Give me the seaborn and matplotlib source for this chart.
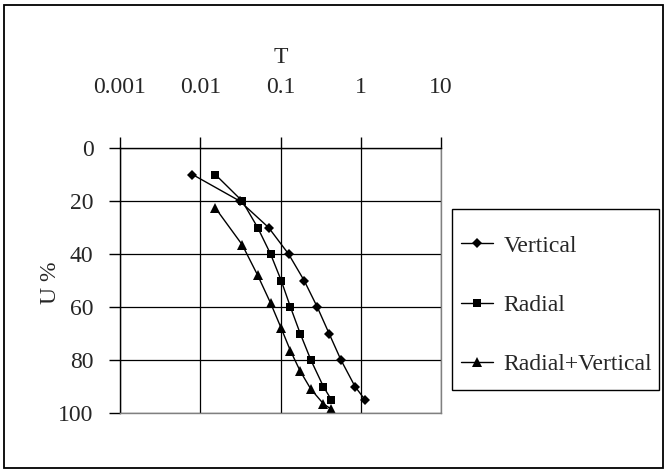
import matplotlib
matplotlib.use("Agg")
import matplotlib.pyplot as plt
import seaborn as sns
import pandas as pd
from matplotlib.patches import Rectangle
from matplotlib.ticker import FixedLocator, FixedFormatter, NullLocator

# Data
u_levels = [10, 20, 30, 40, 50, 60, 70, 80, 90, 95]
t_vertical = [0.008, 0.031, 0.071, 0.126, 0.197, 0.287, 0.403, 0.567, 0.848, 1.129]
t_radial = [0.0154, 0.0333, 0.0519, 0.0752, 0.102, 0.133, 0.176, 0.239, 0.342, 0.43]
u_combined = [22.6, 36.5, 48.0, 58.5, 68.0, 76.5, 84.2, 91.0, 96.5, 98.6]
series_names = ["Vertical", "Radial", "Radial+Vertical"]
x_tick_values = [0.001, 0.01, 0.1, 1, 10]
x_tick_labels = ["0.001", "0.01", "0.1", "1", "10"]
y_tick_values = [0, 20, 40, 60, 80, 100]

df = pd.concat([
    pd.DataFrame({"T": t_vertical, "U": u_levels, "series": series_names[0], "order": range(10)}),
    pd.DataFrame({"T": t_radial, "U": u_levels, "series": series_names[1], "order": range(10)}),
    pd.DataFrame({"T": t_radial, "U": u_combined, "series": series_names[2], "order": range(10)}),
], ignore_index=True)

sns.set_style("white")
plt.rcParams["font.family"] = ["Liberation Serif", "DejaVu Serif"]
plt.rcParams["font.size"] = 17

fig = plt.figure(figsize=(6.66, 4.71), dpi=100)
W, H = 666, 471
left, right, top, bottom = 120, 441, 148, 413
ax = fig.add_axes([left / W, 1 - bottom / H, (right - left) / W, (bottom - top) / H])

markers = {"Vertical": "D", "Radial": "s", "Radial+Vertical": "^"}
sns.lineplot(data=df, x="T", y="U", hue="series", style="series", markers=markers,
             dashes=False, palette=["black"] * 3, sort=False, estimator=None,
             linewidth=1.0, markersize=7, markeredgewidth=0, ax=ax, legend=False)
for line, ms in zip(ax.get_lines(), [5.5, 6, 7.5]):
    line.set_markersize(ms)

ax.set_xscale("log")
ax.set_xlim(0.001, 10)
ax.set_ylim(100, 0)
ax.xaxis.tick_top()
ax.xaxis.set_label_position("top")
ax.xaxis.set_major_locator(FixedLocator(x_tick_values))
ax.xaxis.set_major_formatter(FixedFormatter(x_tick_labels))
ax.xaxis.set_minor_locator(NullLocator())
ax.set_yticks(y_tick_values)
ax.tick_params(axis="x", which="major", direction="out", length=8, width=1, color="black",
               pad=28, labelsize=17, top=True, bottom=False)
ax.tick_params(axis="y", which="major", direction="out", length=8, width=1, color="black",
               pad=11, labelsize=17, left=True)
ax.grid(True, color="black", linewidth=0.9)
ax.set_axisbelow(True)

ax.set_xlabel("T", fontsize=17, labelpad=10)
ax.set_ylabel("U %", fontsize=17)
ax.yaxis.set_label_coords(-0.184, 0.49)

for side in ["right", "bottom"]:
    ax.spines[side].set_color("#808080")
    ax.spines[side].set_linewidth(1.0)
for side in ["left", "top"]:
    ax.spines[side].set_color("black")
    ax.spines[side].set_linewidth(1.0)

# Legend
handles = ax.get_lines()[:3]
leg = fig.legend(handles, series_names, loc="upper left",
                 bbox_to_anchor=(461 / W, 1 - 235 / H), frameon=False,
                 fontsize=17, handlelength=1.35, handletextpad=0.45,
                 labelspacing=1.6, borderpad=0, borderaxespad=0)
fig.patches.append(Rectangle((452 / W, 1 - 390 / H), (659 - 452) / W, (390 - 209) / H,
                             transform=fig.transFigure, fill=False,
                             edgecolor="black", linewidth=1.0))
# Outer chart border
fig.patches.append(Rectangle((3.5 / W, 1 - 468 / H), (663 - 3.5) / W, (468 - 5) / H,
                             transform=fig.transFigure, fill=False,
                             edgecolor="black", linewidth=1.3))

fig.savefig("out.png", dpi=100)
